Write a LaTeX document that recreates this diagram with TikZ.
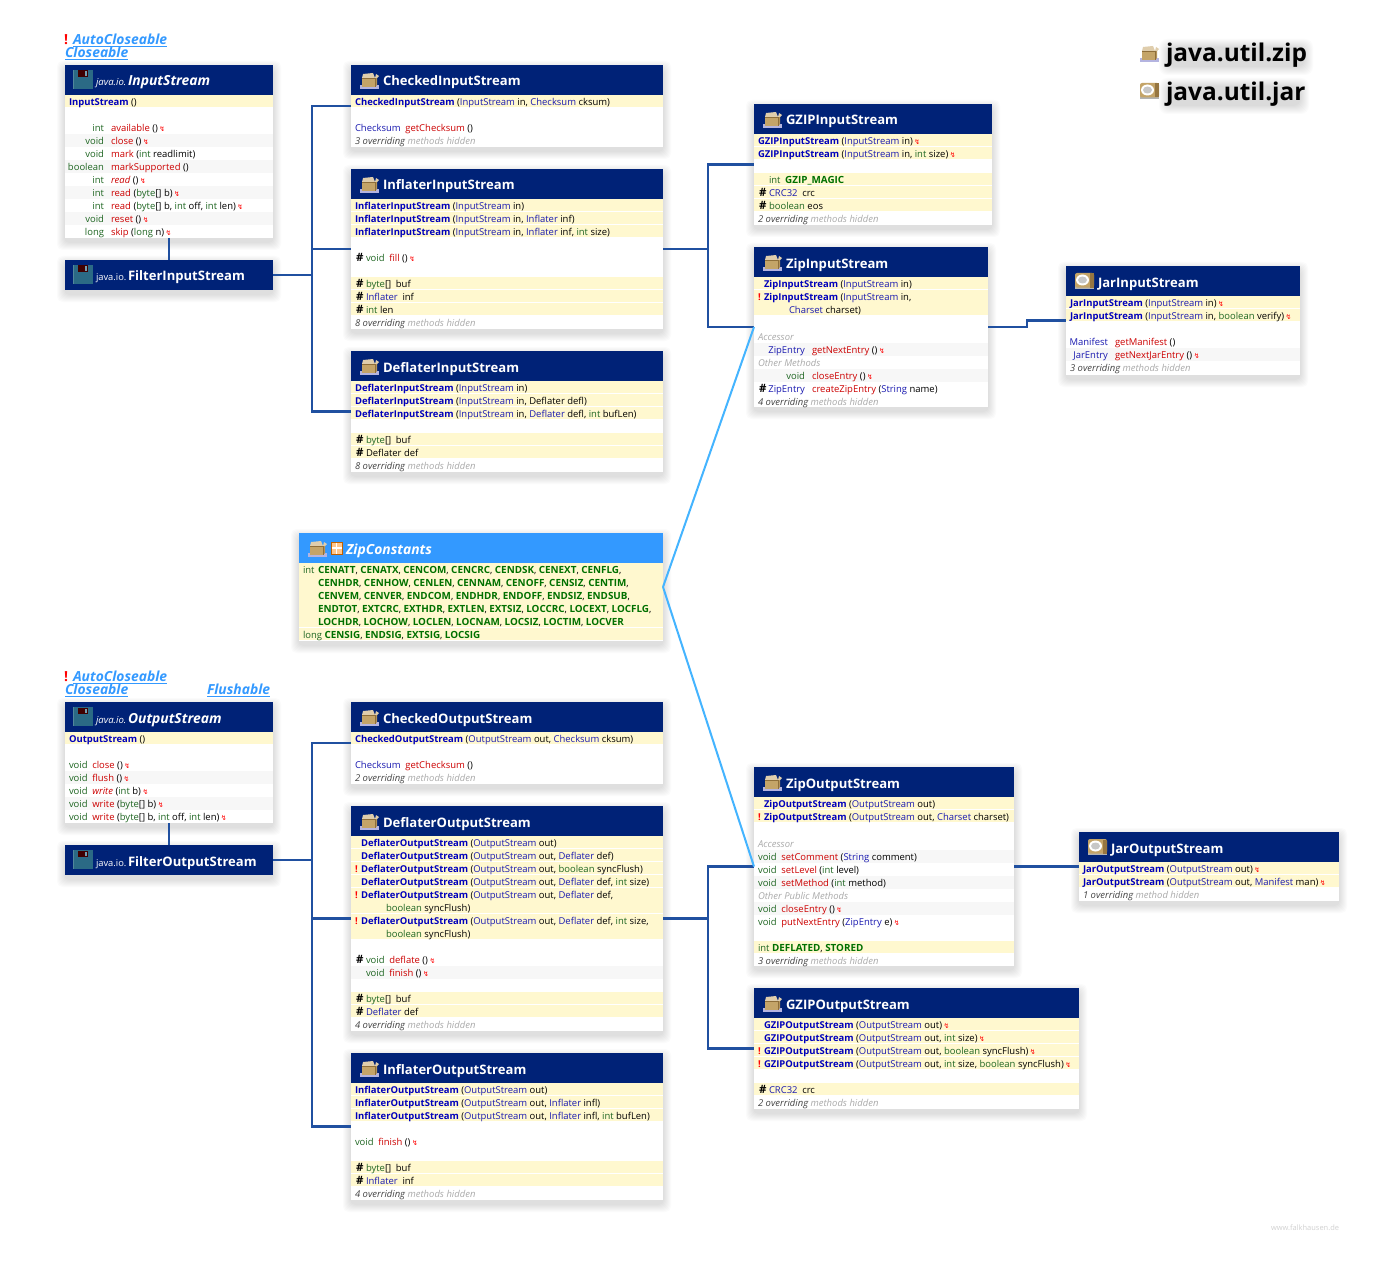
\documentclass[tikz,border=0pt]{standalone}
\usepackage{fontspec}
\setmainfont{Open Sans}
\newfontfamily\djv{DejaVu Sans}
\usetikzlibrary{calc}
\definecolor{hdr}{HTML}{002277}
\definecolor{hdrl}{HTML}{3399FF}
\definecolor{bandc}{HTML}{FFF8CF}
\definecolor{stripe}{HTML}{F7F7F7}
\definecolor{cctor}{HTML}{0000BB}
\definecolor{ctype}{HTML}{1A1AB0}
\definecolor{cprim}{HTML}{1F6622}
\definecolor{cmeth}{HTML}{CC0000}
\definecolor{cconst}{HTML}{007000}
\definecolor{cgray}{HTML}{AAAAAA}
\definecolor{cdark}{HTML}{444444}
\definecolor{tree}{HTML}{2050A0}
\definecolor{impl}{HTML}{44B4FF}
\definecolor{link}{HTML}{3399FF}
\definecolor{tan1}{HTML}{C4A468}
\definecolor{tan2}{HTML}{8E6E3A}
\definecolor{tealc}{HTML}{2B6A85}
\definecolor{lav}{HTML}{B4B4E0}
\newcommand\fs{\fontsize{7.1}{9}\selectfont}
\newcommand\cK[1]{\textcolor{cctor}{\textbf{#1}}}
\newcommand\cT[1]{\textcolor{ctype}{#1}}
\newcommand\cP[1]{\textcolor{cprim}{#1}}
\newcommand\cM[1]{\textcolor{cmeth}{#1}}
\newcommand\cI[1]{\textcolor{cmeth}{\textit{#1}}}
\newcommand\cC[1]{\textcolor{cconst}{\fontsize{7.4}{9}\selectfont\textbf{#1}}}
\newcommand\zz{\,{\djv\fontsize{5.2}{6}\selectfont\color{red}↯}}
\newcommand\sep{\hspace{3.5pt}}
\newcommand\hid[2]{\textit{\textcolor{cdark}{#1 overriding} \textcolor{cgray}{#2 hidden}}}
\newcommand\grp[1]{\textit{\textcolor{cgray}{#1}}}
\newcounter{nd}
\tikzset{
  rowtext/.style={inner sep=0pt,outer sep=0pt,font=\fs,text=black},
  rowwest/.style={rowtext,anchor=base west},
  roweast/.style={rowtext,anchor=base east},
  bodybox/.style={inner sep=0pt,outer sep=0pt,fill=white,anchor=north west},
  headbox/.style={inner sep=0pt,outer sep=0pt,fill=hdr,anchor=north west},
  headtext/.style={inner sep=0pt,outer sep=0pt,anchor=base west,text=white,yshift=-0.75pt,font=\fontsize{9.8}{12}\selectfont\bfseries},
  headital/.style={inner sep=0pt,outer sep=0pt,anchor=base west,text=white,yshift=-0.75pt,font=\fontsize{10.4}{12}\selectfont\bfseries\itshape},
  pkgtext/.style={inner sep=0pt,outer sep=0pt,anchor=base west,text=white,yshift=-0.75pt,font=\fontsize{7.2}{9}\selectfont\itshape},
  pkgup/.style={inner sep=0pt,outer sep=0pt,anchor=base west,text=white,yshift=-0.75pt,font=\fontsize{7}{9}\selectfont},
  linktext/.style={inner sep=0pt,outer sep=0pt,anchor=base west,font=\fontsize{10.4}{11}\selectfont\bfseries\itshape,text=link},
  banglink/.style={inner sep=0pt,outer sep=0pt,anchor=base west,font=\fontsize{10.4}{11}\selectfont\bfseries,text=red},
  treeline/.style={draw=tree,line width=2.2pt,line join=miter},
  implline/.style={draw=impl,line width=1.5pt},
  titletext/.style={inner sep=0pt,outer sep=0pt,anchor=base west,text=black,font=\fontsize{18.3}{22}\selectfont\bfseries},
  foot/.style={inner sep=0pt,outer sep=0pt,anchor=base east,text=black!18,font=\fontsize{5.6}{7}\selectfont}
}
% text rows
\newcommand\rT[3]{\stepcounter{nd}\node[rowwest] (n\thend) at (#1,#2+4.3) {#3};}
\newcommand\rE[3]{\stepcounter{nd}\node[roweast] (n\thend) at (#1,#2+4.3) {#3};}
% yellow band from row y1 to row y2, stripe for one row
\newcommand\rB[4]{\fill[bandc] (#1,#3-6) rectangle (#2,#4+6);}
\newcommand\rS[3]{\fill[stripe] (#1,#3-6) rectangle (#2,#3+7);}
% method with right aligned type
\newcommand\rM[4]{\rE{#1}{#2}{#3}\rT{#1+7}{#2}{#4}}
\newcommand\rH[2]{\rT{#1}{#2}{\fontsize{8.6}{9}\selectfont\bfseries\#}}
\newcommand\rX[2]{\stepcounter{nd}\node[rowwest,text=red] (n\thend) at (#1,#2+4.3) {\textbf{!}};}
% icons
\newcommand\iconPkg[2]{\begin{scope}[shift={(#1,#2)}]
  \fill[lav] (1,5) rectangle (20,9);
  \fill[tan1] (3,-2) rectangle (16,7);
  \fill[tan1!70!tan2] (16,-2) -- (18,-3) -- (18,5) -- (16,7) -- cycle;
  \fill[tan1!55!white] (3,-2) -- (4,-6) -- (14,-7) -- (16,-2) -- cycle;
  \fill[tan1!55!white] (16,-2) -- (17,-6) -- (20,-4) -- (18,-2) -- cycle;
  \draw[tan2,line width=.3pt] (3,-2) -- (16,-2) -- (16,7);
\end{scope}}
\newcommand\iconJar[2]{\begin{scope}[shift={(#1,#2)}]
  \fill[black!30] (1,3) rectangle (20,8);
  \fill[tan1,rounded corners=1.5pt] (1,-8) rectangle (20,6.5);
  \fill[tan2!85!tan1] (15.5,-7.5) rectangle (20,6.5);
  \fill[white] (8.5,-1) ellipse (6.5 and 5.5);
  \fill[black!22] (8.5,-1) ellipse (4.5 and 3.5);
\end{scope}}
\newcommand\iconDisk[2]{\begin{scope}[shift={(#1,#2)}]
  \fill[tealc] (0,-10) rectangle (20,9);
  \fill[black!75!red] (5,-9.5) rectangle (14.5,-3);
  \fill[white!35!tealc] (12,-8.5) rectangle (14,-4);
  \fill[white!75!tealc,opacity=.25] (0,-10) rectangle (.8,9);
\end{scope}}
% class box: name, x1, y1, x2, y2, head fill
\newcommand\clsbox[6]{%
  \foreach \i in {8,7,6,5,4,3,2,1}{\fill[black,opacity=.016,rounded corners=4pt] (#2-\i,#3+4-\i) rectangle (#4+\i,#5+4+\i);}
  \pgfmathsetlengthmacro\mw{(#4-#2)*0.75}\pgfmathsetlengthmacro\mh{(#5-#3)*0.75}\pgfmathsetlengthmacro\hh{22.5}
  \node[bodybox,minimum width=\mw,minimum height=\mh] (#1) at (#2,#3) {};
  \node[headbox,minimum width=\mw,minimum height=\hh,fill=#6] (#1-head) at (#2,#3) {};
}
\newcommand\softrect[4]{\foreach \i in {9,8,7,6,5,4,3,2,1}{\fill[black,opacity=.016,rounded corners=6pt] (#1-\i,#2-\i) rectangle (#3+\i,#4+\i);}}
\begin{document}
\begin{tikzpicture}[x=0.75pt,y=-0.75pt]
\useasboundingbox (0,0) rectangle (1395,1273);
\fill[white] (0,0) rectangle (1395,1273);

% ===== legend
\softrect{1168}{48}{1304}{66}
\softrect{1168}{87}{1300}{105}
\iconPkg{1139}{53}
\iconJar{1139}{91}
\node[titletext] (legendzip) at (1166,62) {java.util.zip};
\node[titletext] (legendjar) at (1166,101) {java.util.jar};

% ===== InputStream
\node[banglink] (ixa) at (64,44.5) {!};
\node[linktext] (lnka) at (73,44.5) {\underline{AutoCloseable}};
\node[linktext] (lnkb) at (65,57.5) {\underline{Closeable}};
\clsbox{InputStream}{65}{65}{273}{238}{hdr}
\iconDisk{73}{80}
\node[pkgtext] (inpk) at (96,85) {java.io.};
\node[headital] (inti) at (128,85) {InputStream};
\rB{65}{273}{101}{101}\rS{65}{273}{140}\rS{65}{273}{166}\rS{65}{273}{192}\rS{65}{273}{218}
\rT{69}{101}{\cK{InputStream} ()}
\rM{104}{127}{\cP{int}}{\cM{available} ()\zz}
\rM{104}{140}{\cP{void}}{\cM{close} ()\zz}
\rM{104}{153}{\cP{void}}{\cM{mark} (\cP{int} readlimit)}
\rM{104}{166}{\cP{boolean}}{\cM{markSupported} ()}
\rM{104}{179}{\cP{int}}{\cI{read} ()\zz}
\rM{104}{192}{\cP{int}}{\cM{read} (\cP{byte}[] b)\zz}
\rM{104}{205}{\cP{int}}{\cM{read} (\cP{byte}[] b, \cP{int} off, \cP{int} len)\zz}
\rM{104}{218}{\cP{void}}{\cM{reset} ()\zz}
\rM{104}{231}{\cP{long}}{\cM{skip} (\cP{long} n)\zz}

\clsbox{FilterInputStream}{65}{260}{273}{290}{hdr}
\iconDisk{73}{275}
\node[pkgup] (fipk) at (96,280) {java.io.};
\node[headtext] (fiti) at (128,280) {FilterInputStream};

% ===== CheckedInputStream
\clsbox{CheckedInputStream}{351}{65}{663}{147}{hdr}
\iconPkg{359}{80}
\node[headtext] (ciT) at (383,85) {CheckedInputStream};
\rB{351}{663}{101}{101}
\rT{355}{101}{\cK{CheckedInputStream} (\cT{InputStream} in, \cT{Checksum} cksum)}
\rT{355}{127}{\cT{Checksum}\sep\cM{getChecksum} ()}
\rT{355}{140}{\hid{3}{methods}}

% ===== InflaterInputStream
\clsbox{InflaterInputStream}{351}{169}{663}{329}{hdr}
\iconPkg{359}{184}
\node[headtext] (iiT) at (383,189) {InflaterInputStream};
\rB{351}{663}{205}{205}\rB{351}{663}{218}{218}\rB{351}{663}{231}{231}
\rB{351}{663}{283}{283}\rB{351}{663}{296}{296}\rB{351}{663}{309}{309}
\rT{355}{205}{\cK{InflaterInputStream} (\cT{InputStream} in)}
\rT{355}{218}{\cK{InflaterInputStream} (\cT{InputStream} in, \cT{Inflater} inf)}
\rT{355}{231}{\cK{InflaterInputStream} (\cT{InputStream} in, \cT{Inflater} inf, \cP{int} size)}
\rH{356}{257}\rT{366}{257}{\cP{void}\sep\cM{fill} ()\zz}
\rH{356}{283}\rT{366}{283}{\cP{byte}[]\sep buf}
\rH{356}{296}\rT{366}{296}{\cT{Inflater}\sep inf}
\rH{356}{309}\rT{366}{309}{\cP{int} len}
\rT{355}{322}{\hid{8}{methods}}

% ===== DeflaterInputStream
\clsbox{DeflaterInputStream}{351}{351}{663}{472}{hdr}
\iconPkg{359}{366}
\node[headtext] (diT) at (383,371) {DeflaterInputStream};
\rB{351}{663}{387}{387}\rB{351}{663}{400}{400}\rB{351}{663}{413}{413}
\rB{351}{663}{439}{439}\rB{351}{663}{452}{452}
\rT{355}{387}{\cK{DeflaterInputStream} (\cT{InputStream} in)}
\rT{355}{400}{\cK{DeflaterInputStream} (\cT{InputStream} in, Deflater defl)}
\rT{355}{413}{\cK{DeflaterInputStream} (\cT{InputStream} in, \cT{Deflater} defl, \cP{int} bufLen)}
\rH{356}{439}\rT{366}{439}{\cP{byte}[]\sep buf}
\rH{356}{452}\rT{366}{452}{Deflater def}
\rT{355}{465}{\hid{8}{methods}}

% ===== GZIPInputStream
\clsbox{GZIPInputStream}{754}{104}{992}{225}{hdr}
\iconPkg{762}{119}
\node[headtext] (giT) at (786,124) {GZIPInputStream};
\rB{754}{992}{140}{140}\rB{754}{992}{153}{153}
\rB{754}{992}{179}{179}\rB{754}{992}{192}{192}\rB{754}{992}{205}{205}
\rT{758}{140}{\cK{GZIPInputStream} (\cT{InputStream} in)\zz}
\rT{758}{153}{\cK{GZIPInputStream} (\cT{InputStream} in, \cP{int} size)\zz}
\rT{769}{179}{\cP{int}\sep\cC{GZIP\_MAGIC}}
\rH{759}{192}\rT{769}{192}{\cT{CRC32}\sep crc}
\rH{759}{205}\rT{769}{205}{\cP{boolean} eos}
\rT{758}{218}{\hid{2}{methods}}

% ===== ZipInputStream
\clsbox{ZipInputStream}{754}{247}{988}{407}{hdr}
\iconPkg{762}{262}
\node[headtext] (ziT) at (786,267) {ZipInputStream};
\rB{754}{988}{283}{283}\rB{754}{988}{296}{309}
\rS{754}{988}{349}\rS{754}{988}{375}
\rT{764}{283}{\cK{ZipInputStream} (\cT{InputStream} in)}
\rX{758}{296}\rT{764}{296}{\cK{ZipInputStream} (\cT{InputStream} in,}
\rT{789}{309}{\cT{Charset} charset)}
\rT{758}{336}{\grp{Accessor}}
\rM{805}{349}{\cT{ZipEntry}}{\cM{getNextEntry} ()\zz}
\rT{758}{362}{\grp{Other Methods}}
\rM{805}{375}{\cP{void}}{\cM{closeEntry} ()\zz}
\rH{759}{388}\rM{805}{388}{\cT{ZipEntry}}{\cM{createZipEntry} (\cT{String} name)}
\rT{758}{401}{\hid{4}{methods}}

% ===== JarInputStream
\clsbox{JarInputStream}{1066}{266}{1300}{375}{hdr}
\iconJar{1074}{281}
\node[headtext] (jiT) at (1098,286) {JarInputStream};
\rB{1066}{1300}{302}{302}\rB{1066}{1300}{315}{315}\rS{1066}{1300}{354}
\rT{1070}{302}{\cK{JarInputStream} (\cT{InputStream} in)\zz}
\rT{1070}{315}{\cK{JarInputStream} (\cT{InputStream} in, \cP{boolean} verify)\zz}
\rM{1108}{341}{\cT{Manifest}}{\cM{getManifest} ()}
\rM{1108}{354}{\cT{JarEntry}}{\cM{getNextJarEntry} ()\zz}
\rT{1070}{367}{\hid{3}{methods}}

% ===== ZipConstants
\clsbox{ZipConstants}{299}{533}{663}{641}{hdrl}
\iconPkg{307}{548}
\fill[orange!45!white,draw=orange!75!black,line width=.4pt] (331,542) rectangle (342,554);
\draw[white,line width=.8pt] (336.5,542.5) -- (336.5,553.5) (331.5,548) -- (341.5,548);
\node[headital] (zcT) at (346,553) {ZipConstants};
\rB{299}{663}{569}{621}\rB{299}{663}{634}{634}
\rT{303}{569}{\cP{int}}
\rT{318}{569}{\cC{CENATT}, \cC{CENATX}, \cC{CENCOM}, \cC{CENCRC}, \cC{CENDSK}, \cC{CENEXT}, \cC{CENFLG},}
\rT{318}{582}{\cC{CENHDR}, \cC{CENHOW}, \cC{CENLEN}, \cC{CENNAM}, \cC{CENOFF}, \cC{CENSIZ}, \cC{CENTIM},}
\rT{318}{595}{\cC{CENVEM}, \cC{CENVER}, \cC{ENDCOM}, \cC{ENDHDR}, \cC{ENDOFF}, \cC{ENDSIZ}, \cC{ENDSUB},}
\rT{318}{608}{\cC{ENDTOT}, \cC{EXTCRC}, \cC{EXTHDR}, \cC{EXTLEN}, \cC{EXTSIZ}, \cC{LOCCRC}, \cC{LOCEXT}, \cC{LOCFLG},}
\rT{318}{621}{\cC{LOCHDR}, \cC{LOCHOW}, \cC{LOCLEN}, \cC{LOCNAM}, \cC{LOCSIZ}, \cC{LOCTIM}, \cC{LOCVER}}
\rT{303}{634}{\cP{long} \cC{CENSIG}, \cC{ENDSIG}, \cC{EXTSIG}, \cC{LOCSIG}}

% ===== OutputStream
\node[banglink] (ixb) at (64,681.5) {!};
\node[linktext] (lnkc) at (73,681.5) {\underline{AutoCloseable}};
\node[linktext] (lnkd) at (65,694.5) {\underline{Closeable}};
\node[linktext] (lnke) at (207,694.5) {\underline{Flushable}};
\clsbox{OutputStream}{65}{702}{273}{823}{hdr}
\iconDisk{73}{717}
\node[pkgtext] (oupk) at (96,722) {java.io.};
\node[headital] (outi) at (128,722) {OutputStream};
\rB{65}{273}{738}{738}\rS{65}{273}{777}\rS{65}{273}{803}
\rT{69}{738}{\cK{OutputStream} ()}
\rT{69}{764}{\cP{void}\sep\cM{close} ()\zz}
\rT{69}{777}{\cP{void}\sep\cM{flush} ()\zz}
\rT{69}{790}{\cP{void}\sep\cI{write} (\cP{int} b)\zz}
\rT{69}{803}{\cP{void}\sep\cM{write} (\cP{byte}[] b)\zz}
\rT{69}{816}{\cP{void}\sep\cM{write} (\cP{byte}[] b, \cP{int} off, \cP{int} len)\zz}

\clsbox{FilterOutputStream}{65}{845}{273}{875}{hdr}
\iconDisk{73}{860}
\node[pkgup] (fopk) at (96,865) {java.io.};
\node[headtext] (foti) at (128,865) {FilterOutputStream};

% ===== CheckedOutputStream
\clsbox{CheckedOutputStream}{351}{702}{663}{784}{hdr}
\iconPkg{359}{717}
\node[headtext] (coT) at (383,722) {CheckedOutputStream};
\rB{351}{663}{738}{738}
\rT{355}{738}{\cK{CheckedOutputStream} (\cT{OutputStream} out, \cT{Checksum} cksum)}
\rT{355}{764}{\cT{Checksum}\sep\cM{getChecksum} ()}
\rT{355}{777}{\hid{2}{methods}}

% ===== DeflaterOutputStream
\clsbox{DeflaterOutputStream}{351}{806}{663}{1031}{hdr}
\iconPkg{359}{821}
\node[headtext] (doT) at (383,826) {DeflaterOutputStream};
\rB{351}{663}{842}{842}\rB{351}{663}{855}{855}\rB{351}{663}{868}{868}\rB{351}{663}{881}{881}
\rB{351}{663}{894}{907}\rB{351}{663}{920}{933}
\rS{351}{663}{972}\rB{351}{663}{998}{998}\rB{351}{663}{1011}{1011}
\rT{361}{842}{\cK{DeflaterOutputStream} (\cT{OutputStream} out)}
\rT{361}{855}{\cK{DeflaterOutputStream} (\cT{OutputStream} out, \cT{Deflater} def)}
\rX{355}{868}\rT{361}{868}{\cK{DeflaterOutputStream} (\cT{OutputStream} out, \cP{boolean} syncFlush)}
\rT{361}{881}{\cK{DeflaterOutputStream} (\cT{OutputStream} out, \cT{Deflater} def, \cP{int} size)}
\rX{355}{894}\rT{361}{894}{\cK{DeflaterOutputStream} (\cT{OutputStream} out, \cT{Deflater} def,}
\rT{386}{907}{\cP{boolean} syncFlush)}
\rX{355}{920}\rT{361}{920}{\cK{DeflaterOutputStream} (\cT{OutputStream} out, \cT{Deflater} def, \cP{int} size,}
\rT{386}{933}{\cP{boolean} syncFlush)}
\rH{356}{959}\rT{366}{959}{\cP{void}\sep\cM{deflate} ()\zz}
\rT{366}{972}{\cP{void}\sep\cM{finish} ()\zz}
\rH{356}{998}\rT{366}{998}{\cP{byte}[]\sep buf}
\rH{356}{1011}\rT{366}{1011}{\cT{Deflater} def}
\rT{355}{1024}{\hid{4}{methods}}

% ===== InflaterOutputStream
\clsbox{InflaterOutputStream}{351}{1053}{663}{1200}{hdr}
\iconPkg{359}{1068}
\node[headtext] (ioT) at (383,1073) {InflaterOutputStream};
\rB{351}{663}{1089}{1089}\rB{351}{663}{1102}{1102}\rB{351}{663}{1115}{1115}
\rB{351}{663}{1167}{1167}\rB{351}{663}{1180}{1180}
\rT{355}{1089}{\cK{InflaterOutputStream} (\cT{OutputStream} out)}
\rT{355}{1102}{\cK{InflaterOutputStream} (\cT{OutputStream} out, \cT{Inflater} infl)}
\rT{355}{1115}{\cK{InflaterOutputStream} (\cT{OutputStream} out, \cT{Inflater} infl, \cP{int} bufLen)}
\rT{355}{1141}{\cP{void}\sep\cM{finish} ()\zz}
\rH{356}{1167}\rT{366}{1167}{\cP{byte}[]\sep buf}
\rH{356}{1180}\rT{366}{1180}{\cT{Inflater}\sep inf}
\rT{355}{1193}{\hid{4}{methods}}

% ===== ZipOutputStream
\clsbox{ZipOutputStream}{754}{767}{1014}{966}{hdr}
\iconPkg{762}{782}
\node[headtext] (zoT) at (786,787) {ZipOutputStream};
\rB{754}{1014}{803}{803}\rB{754}{1014}{816}{816}
\rS{754}{1014}{856}\rS{754}{1014}{882}\rS{754}{1014}{908}\rB{754}{1014}{947}{947}
\rT{764}{803}{\cK{ZipOutputStream} (\cT{OutputStream} out)}
\rX{758}{816}\rT{764}{816}{\cK{ZipOutputStream} (\cT{OutputStream} out, \cT{Charset} charset)}
\rT{758}{843}{\grp{Accessor}}
\rT{758}{856}{\cP{void}\sep\cM{setComment} (\cT{String} comment)}
\rT{758}{869}{\cP{void}\sep\cM{setLevel} (\cP{int} level)}
\rT{758}{882}{\cP{void}\sep\cM{setMethod} (\cP{int} method)}
\rT{758}{895}{\grp{Other Public Methods}}
\rT{758}{908}{\cP{void}\sep\cM{closeEntry} ()\zz}
\rT{758}{921}{\cP{void}\sep\cM{putNextEntry} (\cT{ZipEntry} e)\zz}
\rT{758}{947}{\cP{int} \cC{DEFLATED}, \cC{STORED}}
\rT{758}{960}{\hid{3}{methods}}

% ===== GZIPOutputStream
\clsbox{GZIPOutputStream}{754}{988}{1079}{1109}{hdr}
\iconPkg{762}{1003}
\node[headtext] (goT) at (786,1008) {GZIPOutputStream};
\rB{754}{1079}{1024}{1024}\rB{754}{1079}{1037}{1037}\rB{754}{1079}{1050}{1050}\rB{754}{1079}{1063}{1063}\rB{754}{1079}{1089}{1089}
\rT{764}{1024}{\cK{GZIPOutputStream} (\cT{OutputStream} out)\zz}
\rT{764}{1037}{\cK{GZIPOutputStream} (\cT{OutputStream} out, \cP{int} size)\zz}
\rX{758}{1050}\rT{764}{1050}{\cK{GZIPOutputStream} (\cT{OutputStream} out, \cP{boolean} syncFlush)\zz}
\rX{758}{1063}\rT{764}{1063}{\cK{GZIPOutputStream} (\cT{OutputStream} out, \cP{int} size, \cP{boolean} syncFlush)\zz}
\rH{759}{1089}\rT{769}{1089}{\cT{CRC32}\sep crc}
\rT{758}{1102}{\hid{2}{methods}}

% ===== JarOutputStream
\clsbox{JarOutputStream}{1079}{832}{1339}{901}{hdr}
\iconJar{1087}{847}
\node[headtext] (joT) at (1111,852) {JarOutputStream};
\rB{1079}{1339}{868}{868}\rB{1079}{1339}{881}{881}
\rT{1083}{868}{\cK{JarOutputStream} (\cT{OutputStream} out)\zz}
\rT{1083}{881}{\cK{JarOutputStream} (\cT{OutputStream} out, \cT{Manifest} man)\zz}
\rT{1083}{894}{\hid{1}{method}}

% ===== connectors
\coordinate (j1) at ($(FilterInputStream.east)+(39,0)$);
\coordinate (j2) at ($(InflaterInputStream.east)+(45,0)$);
\coordinate (j3) at ($(FilterOutputStream.east)+(39,0)$);
\coordinate (j4) at ($(DeflaterOutputStream.east)+(45,0)$);
\coordinate (j5) at ($(ZipInputStream.east)+(39,0)$);
\draw[treeline] (InputStream.south) -- (FilterInputStream.north);
\draw[treeline] (OutputStream.south) -- (FilterOutputStream.north);
\draw[treeline] (FilterInputStream.east) -- (j1) |- (CheckedInputStream.west);
\draw[treeline] (j1) |- (InflaterInputStream.west);
\draw[treeline] (j1) |- (DeflaterInputStream.west);
\draw[treeline] (InflaterInputStream.east) -- (j2) |- (GZIPInputStream.west);
\draw[treeline] (j2) |- (ZipInputStream.west);
\draw[treeline] (ZipInputStream.east) -- (j5) |- (JarInputStream.west);
\draw[treeline] (FilterOutputStream.east) -- (j3) |- (CheckedOutputStream.west);
\draw[treeline] (j3) |- (DeflaterOutputStream.west);
\draw[treeline] (j3) |- (InflaterOutputStream.west);
\draw[treeline] (DeflaterOutputStream.east) -- (j4) |- (ZipOutputStream.west);
\draw[treeline] (j4) |- (GZIPOutputStream.west);
\draw[treeline] (ZipOutputStream.east) -- (JarOutputStream.west);
\draw[implline] (ZipConstants.east) -- (ZipInputStream.west);
\draw[implline] (ZipConstants.east) -- (ZipOutputStream.west);

\node[foot] (footer) at (1339,1230) {www.falkhausen.de};
\end{tikzpicture}
\end{document}
